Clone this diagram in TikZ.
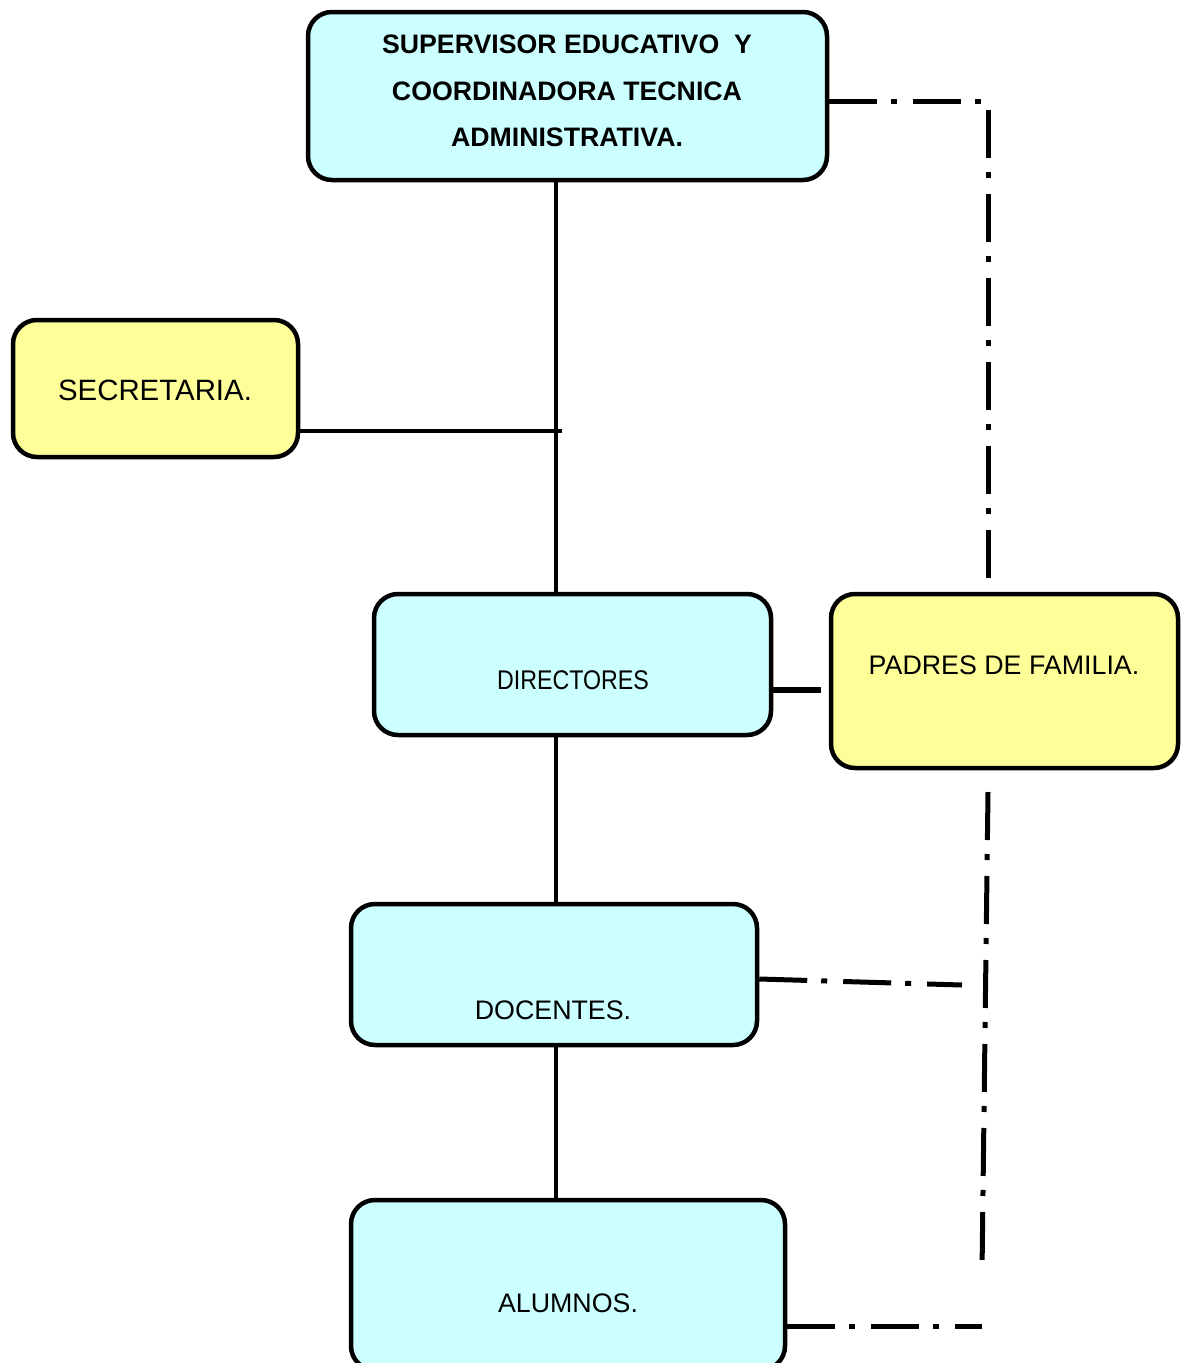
\documentclass[tikz,border=0pt]{standalone}
\usepackage{fontspec}
\setmainfont{Liberation Sans}
\newfontfamily\narrowfont[FakeStretch=0.86]{Liberation Sans}
\definecolor{cyanfill}{HTML}{CCFFFF}
\definecolor{yellowfill}{HTML}{FFFF99}
\begin{document}
\begin{tikzpicture}[x=1pt,y=-1pt,
  box/.style={draw=black,line width=4.5pt,rounded corners=24pt,inner sep=0pt},
  cbox/.style={box,fill=cyanfill},
  ybox/.style={box,fill=yellowfill},
  lbl/.style={inner sep=0pt,font=\fontsize{26.8}{30}\selectfont},
  boldlbl/.style={inner sep=0pt,font=\fontsize{26.7}{30}\selectfont\bfseries},
  solidline/.style={line width=4pt},
  dashdot/.style={line width=5pt,dash pattern=on 48pt off 14pt on 6pt off 16pt}]
\useasboundingbox (0,0) rectangle (1183,1363);
% boxes
\node[cbox,minimum width=519pt,minimum height=168pt] (top) at (567.5,96) {};
\node[ybox,minimum width=285pt,minimum height=137pt] (sec) at (155.5,388.5) {};
\node[cbox,minimum width=397pt,minimum height=141pt] (dir) at (572.5,664.5) {};
\node[ybox,minimum width=347pt,minimum height=174pt] (pad) at (1004.5,681) {};
\node[cbox,minimum width=406pt,minimum height=141pt] (doc) at (554,974.5) {};
\node[cbox,minimum width=434pt,minimum height=170pt] (alu) at (568,1285) {};
% texts
\node[boldlbl] (toptxt) at (567,44) {SUPERVISOR EDUCATIVO\ \ Y};
\node[boldlbl] (toptxt2) at (567,91) {COORDINADORA TECNICA};
\node[boldlbl] (toptxt3) at (567,137) {ADMINISTRATIVA.};
\node[lbl,font=\fontsize{29.4}{32}\selectfont] (sectxt) at (155,390) {SECRETARIA.};
\node[lbl,font=\fontsize{27}{30}\narrowfont] (dirtxt) at (573,680) {DIRECTORES};
\node[lbl] (padtxt) at (1004,665) {PADRES DE FAMILIA.};
\node[lbl] (doctxt) at (553,1010) {DOCENTES.};
\node[lbl] (alutxt) at (568,1303) {ALUMNOS.};
% coordinates
\coordinate (tx) at (556,0);
\coordinate (jn) at (562,431);
\coordinate (dx) at (988,101);
\coordinate (dp) at (988,590);
\coordinate (db1) at (988,792);
\coordinate (db2) at (982,1272);
\coordinate (dd) at (962,985);
\coordinate (da) at (982,1326);
\coordinate (pj) at (821,690);
% solid connectors
\draw[solidline] (top.south -| tx) -- (dir.north -| tx);
\draw[solidline] (dir.south -| tx) -- (doc.north -| tx);
\draw[solidline] (doc.south -| tx) -- (alu.north -| tx);
\draw[solidline] (sec.east |- jn) -- (jn);
\draw[line width=6pt] (dir.east |- pj) -- (pj);
% dash-dot connectors
\draw[dashdot] (top.east |- dx) -- (dx) -- (dp);
\draw[dashdot] (db1) -- (db2);
\draw[dashdot] (doc.east |- 0,979) -- (dd);
\draw[dashdot] (alu.east |- da) -- (da);
\end{tikzpicture}
\end{document}
